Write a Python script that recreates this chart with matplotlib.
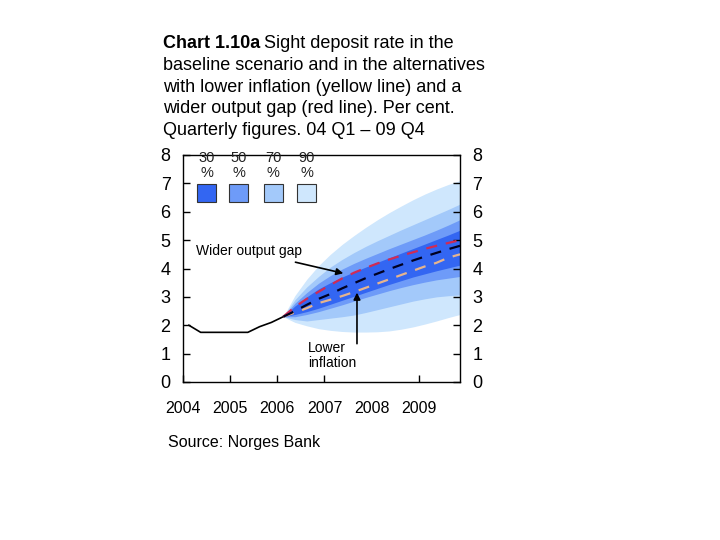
import numpy as np
import matplotlib
matplotlib.use('Agg')
import matplotlib.pyplot as plt
from matplotlib.patches import Rectangle

plt.rcParams['font.family'] = ['Liberation Sans', 'DejaVu Sans']

# historic sight deposit rate, 04 Q1 - 06 Q1
hist = [2.0, 1.75, 1.75, 1.75, 1.75, 1.75, 1.95, 2.1, 2.3]

# projections, 06 Q1 - 09 Q4
baseline = [2.3, 2.5, 2.72, 2.93, 3.1, 3.3, 3.48, 3.66,
            3.82, 3.98, 4.13, 4.28, 4.42, 4.55, 4.68, 4.8]
wider_gap = [2.3, 2.65, 2.93, 3.18, 3.42, 3.65, 3.85, 4.02,
             4.18, 4.32, 4.45, 4.57, 4.69, 4.8, 4.9, 5.0]
lower_infl = [2.3, 2.45, 2.6, 2.78, 2.9, 3.03, 3.17, 3.32,
              3.47, 3.62, 3.77, 3.92, 4.07, 4.2, 4.38, 4.5]

# fan chart bands (lower, upper)
lo90 = [2.3, 2.1, 1.98, 1.88, 1.82, 1.78, 1.76, 1.76,
        1.77, 1.8, 1.86, 1.94, 2.04, 2.15, 2.27, 2.38]
hi90 = [2.3, 3.05, 3.62, 4.1, 4.5, 4.85, 5.16, 5.45,
        5.72, 5.97, 6.2, 6.42, 6.62, 6.8, 6.96, 7.1]
lo70 = [2.3, 2.2, 2.15, 2.2, 2.25, 2.3, 2.36, 2.45,
        2.55, 2.65, 2.75, 2.85, 2.93, 3.0, 3.04, 3.07]
hi70 = [2.3, 2.9, 3.35, 3.72, 4.05, 4.32, 4.56, 4.78,
        4.98, 5.17, 5.36, 5.54, 5.72, 5.9, 6.08, 6.27]
lo50 = [2.3, 2.3, 2.38, 2.48, 2.6, 2.72, 2.85, 2.98,
        3.1, 3.22, 3.33, 3.43, 3.52, 3.6, 3.66, 3.72]
hi50 = [2.3, 2.78, 3.15, 3.48, 3.75, 3.98, 4.18, 4.36,
        4.53, 4.7, 4.86, 5.02, 5.18, 5.35, 5.53, 5.72]
lo30 = [2.3, 2.38, 2.48, 2.6, 2.74, 2.88, 3.02, 3.16,
        3.3, 3.44, 3.57, 3.7, 3.81, 3.92, 4.02, 4.12]
hi30 = [2.3, 2.68, 3.0, 3.28, 3.5, 3.7, 3.88, 4.05,
        4.22, 4.38, 4.54, 4.7, 4.86, 5.02, 5.18, 5.35]

band_labels = ['30', '50', '70', '90']
band_colors = ['#3366F2', '#6E9BF8', '#A3C9FA', '#CFE7FD']
years = [2004, 2005, 2006, 2007, 2008, 2009]
yticks = [0, 1, 2, 3, 4, 5, 6, 7, 8]

# quarter mid points
x_hist = 2004 + (np.arange(len(hist)) + 0.5) / 4
x_fc = 2006 + (np.arange(len(baseline)) + 0.5) / 4

fig = plt.figure(figsize=(7.2, 5.4), dpi=100)
ax = fig.add_axes([183 / 720, 158 / 540, 277 / 720, 227 / 540])

bands = [(lo90, hi90), (lo70, hi70), (lo50, hi50), (lo30, hi30)]
for (lo, hi), c in zip(bands, band_colors[::-1]):
    ax.fill_between(x_fc, lo, hi, color=c, lw=0, zorder=1)

ax.plot(x_hist, hist, color='black', lw=1.2, zorder=3)
ax.plot(x_fc, wider_gap, color='#D02B55', lw=1.6, dashes=(5, 4), zorder=3)
ax.plot(x_fc, lower_infl, color='#E6B48E', lw=1.6, dashes=(5, 4), zorder=3)
ax.plot(x_fc, baseline, color='#000020', lw=1.6, dashes=(5, 4), zorder=4)

ax.set_xlim(2004, x_fc[-1])
ax.set_ylim(0, 8)
ax.set_xticks(years)
ax.set_xticklabels([str(y) for y in years])
ax.set_yticks(yticks)
ax.tick_params(axis='x', direction='in', length=5, width=1, pad=14, labelsize=11.5)
ax.tick_params(axis='y', direction='in', length=5, width=1, pad=9, labelsize=13,
               left=True, right=True, labelleft=True, labelright=True)
ax.xaxis.get_major_ticks()[4].tick1line.set_visible(False)
for s in ax.spines.values():
    s.set_linewidth(1.0)

# band legend
box_x = [0.0505, 0.166, 0.292, 0.412]
for bx, lab, c in zip(box_x, band_labels, band_colors):
    ax.add_patch(Rectangle((bx, 0.793), 0.0686, 0.0793, transform=ax.transAxes,
                           facecolor=c, edgecolor='#333333', lw=0.8, zorder=5))
    ax.text(bx + 0.0343, 0.987, lab, transform=ax.transAxes, ha='center',
            va='center', fontsize=10.5, color='#222222', zorder=6)
    ax.text(bx + 0.0343, 0.921, '%', transform=ax.transAxes, ha='center',
            va='center', fontsize=10.5, color='#222222', zorder=6)

# annotations
ax.annotate('Wider output gap', xy=(2007.4, 3.83), xytext=(2006.53, 4.6),
            ha='right', va='center', fontsize=10,
            arrowprops=dict(arrowstyle='-|>', color='black', lw=1.2,
                            mutation_scale=10, shrinkA=3, shrinkB=0),
            zorder=6)
ax.annotate('', xy=(2007.69, 3.15), xytext=(2007.69, 1.35),
            arrowprops=dict(arrowstyle='-|>', color='black', lw=1.2,
                            mutation_scale=10, shrinkA=0, shrinkB=0),
            zorder=6)
ax.text(2006.65, 0.93, 'Lower\ninflation', ha='left', va='center',
        fontsize=10, linespacing=1.1, zorder=6)

# title
title_lines = ['baseline scenario and in the alternatives',
               'with lower inflation (yellow line) and a',
               'wider output gap (red line). Per cent.',
               'Quarterly figures. 04 Q1 \u2013 09 Q4']
x0 = 163 / 720
base0 = 48.3
step = 21.7
t = fig.text(x0, 1 - base0 / 540, 'Chart 1.10a', fontsize=13, fontweight='bold',
             va='baseline', ha='left')
r = fig.canvas.get_renderer()
bb = t.get_window_extent(renderer=r)
fig.text(bb.x1 / 720 + 4 / 720, 1 - base0 / 540, 'Sight deposit rate in the',
         fontsize=13, va='baseline', ha='left')
for i, line in enumerate(title_lines):
    fig.text(x0, 1 - (base0 + step * (i + 1)) / 540, line, fontsize=13,
             va='baseline', ha='left')

fig.text(168 / 720, 1 - 447 / 540, 'Source: Norges Bank', fontsize=11.5,
         va='baseline', ha='left')

fig.savefig('out.png', dpi=100)
